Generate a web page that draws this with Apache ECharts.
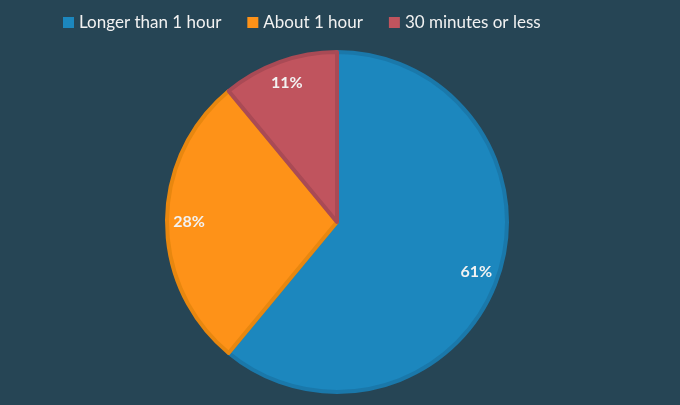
<!DOCTYPE html>
<html><head><meta charset="utf-8">
<script src="https://cdn.jsdelivr.net/npm/echarts@6/dist/echarts.min.js"></script>
<style>html,body{margin:0;padding:0;background:#264555;}#c{width:680px;height:405px;}</style>
</head><body><div id="c"></div>
<script>
const categories = ['Longer than 1 hour', 'About 1 hour', '30 minutes or less'];
const values = [61, 28, 11];
const fills = ['#1c87be', '#fe9218', '#c0545e'];
const borders = ['#1a78aa', '#e8870f', '#a94a55'];

const chart = echarts.init(document.getElementById('c'), null, {renderer: 'canvas'});
const mainData = categories.map((n, i) => ({name: n, value: values[i], itemStyle: {color: fills[i], borderColor: borders[i]}}));
const labelData = categories.map((n, i) => ({name: n, value: values[i]}));
chart.setOption({
  backgroundColor: '#264555',
  animation: false,
  legend: {
    top: 9, left: 58,
    itemWidth: 11, itemHeight: 11, itemGap: 26,
    icon: 'rect',
    itemStyle: {borderWidth: 0},
    textStyle: {color: '#f2f2f2', fontSize: 17, fontFamily: 'Lato'},
    data: categories
  },
  series: [{
    type: 'pie', center: [337, 222], radius: 170,
    startAngle: 90, clockwise: true,
    itemStyle: {borderWidth: 4},
    label: {show: false}, labelLine: {show: false},
    emphasis: {disabled: true},
    data: mainData
  }, {
    type: 'pie', center: [337, 222], radius: [118, 172],
    startAngle: 90, clockwise: true, silent: true,
    itemStyle: {color: 'rgba(0,0,0,0)'},
    label: {show: true, position: 'inside', formatter: '{d}%', color: '#f2f2f2', fontSize: 16, fontWeight: 'bold', fontFamily: 'Lato'},
    labelLine: {show: false},
    emphasis: {disabled: true},
    data: labelData
  }]
});
</script></body></html>
